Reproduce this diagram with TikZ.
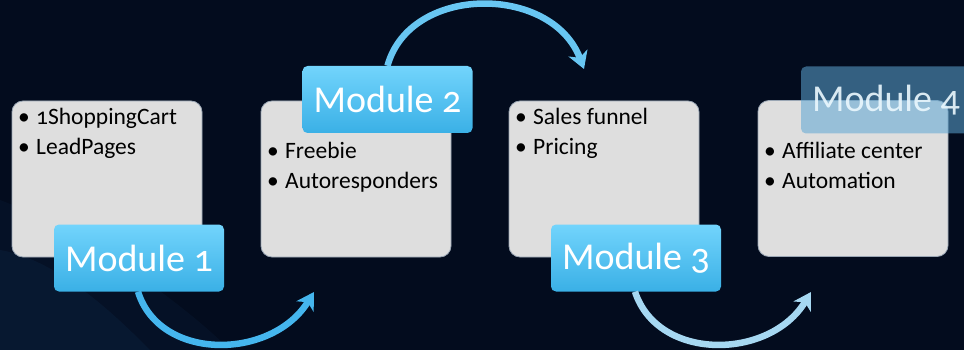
\documentclass[tikz,border=0pt]{standalone}
\usepackage{fontspec}
\setmainfont{Carlito}[Numbers=OldStyle]
\usetikzlibrary{arrows.meta}
\definecolor{bgnavy}{HTML}{030C1E}
\definecolor{bgblue}{HTML}{163A62}
\definecolor{cardgray}{HTML}{DEDEDE}
\definecolor{cardedge}{HTML}{9AA6B4}
\definecolor{modtop}{HTML}{72D4FC}
\definecolor{modbot}{HTML}{3AB0E6}
\definecolor{arrowA}{HTML}{45B6EE}
\definecolor{arrowB}{HTML}{68C6F2}
\definecolor{arrowC}{HTML}{A6D8F2}
\definecolor{modfour}{HTML}{5DA6D4}
\tikzset{
  card/.style={draw=cardedge, line width=0.8pt, fill=cardgray, rounded corners=11pt,
    minimum width=190pt, minimum height=156pt, inner sep=0pt},
  modbox/.style={rounded corners=5pt, top color=modtop, bottom color=modbot,
    minimum width=170pt, minimum height=67pt, inner sep=0pt,
    text=white, font=\fontsize{38}{40}\selectfont},
  modfaded/.style={rounded corners=5pt, fill=modfour, fill opacity=0.55, text opacity=0.9,
    minimum width=170pt, minimum height=67pt, inner sep=0pt,
    text=white!92!cyan, font=\fontsize{38}{40}\selectfont},
  item/.style={anchor=base west, inner sep=0pt, text=black, font=\fontsize{23.5}{27}\selectfont},
  flow/.style={line width=6.5pt, -{Stealth[length=17pt,width=20pt,inset=5pt]}},
}
\newcommand{\bul}[1]{\makebox[18pt][l]{•}#1}
\begin{document}
\begin{tikzpicture}[x=1pt,y=-1pt]
\clip (0,0) rectangle (964,350);
\fill[bgnavy] (0,0) rectangle (964,350);
\fill[bgblue, opacity=0.18] (0,350) -- (0,250) .. controls (60,260) and (120,320) .. (150,350) -- cycle;
\fill[bgblue, opacity=0.12] (0,350) -- (0,200) .. controls (80,230) and (180,300) .. (230,350) -- cycle;

% cards
\node[card] (c1) at (107,179) {};
\node[card] (c2) at (356,179) {};
\node[card] (c3) at (604,179) {};
\node[card] (c4) at (853,178.5) {};

% items
\node[item] (t1a) at (18,125) {\bul{1ShoppingCart}};
\node[item] (t1b) at (18,154) {\bul{LeadPages}};
\node[item] (t2a) at (267,159) {\bul{Freebie}};
\node[item] (t2b) at (267,188) {\bul{Autoresponders}};
\node[item] (t3a) at (515,125) {\bul{Sales funnel}};
\node[item] (t3b) at (515,154) {\bul{Pricing}};
\node[item] (t4a) at (764,159) {\bul{Affiliate center}};
\node[item] (t4b) at (764,188) {\bul{Automation}};

% module labels
\node[modbox] (m1) at (139,258) {Module 1};
\node[modbox] (m2) at (387.5,99.5) {Module 2};
\node[modbox] (m3) at (636,258) {Module 3};
\node[modfaded] (m4) at (886,100) {Module 4};

% arrow end points
\coordinate (e1) at (314,292);
\coordinate (e2) at (584,69);
\coordinate (e3) at (811,292);

% connectors
\draw[flow, arrowA] (m1.south) ++(-1,0) .. controls (160,362) and (272,360) .. (e1);
\draw[flow, arrowB] (m2.north) ++(0,0) .. controls (410,-16) and (552,-16) .. (e2);
\draw[flow, arrowC] (m3.south) ++(-1,0) .. controls (658,362) and (770,360) .. (e3);
\end{tikzpicture}
\end{document}
